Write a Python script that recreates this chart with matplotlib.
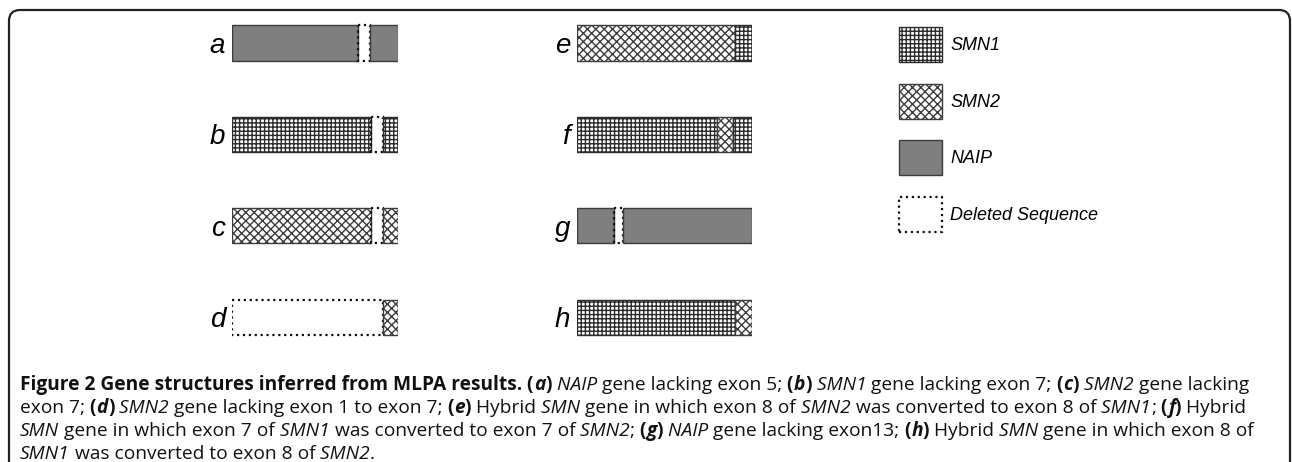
import matplotlib
matplotlib.use("Agg")
import matplotlib.pyplot as plt
from matplotlib.patches import Patch, FancyBboxPatch
from matplotlib.offsetbox import TextArea, HPacker, VPacker, AnchoredOffsetbox

# gene structures (segment kind + relative length, % of the whole gene)
LEFT_LABELS = ["a", "b", "c", "d"]
LEFT_SEGMENTS = [
    ["NAIP", "DEL", "NAIP"],
    ["SMN1", "DEL", "SMN1"],
    ["SMN2", "DEL", "SMN2"],
    ["DEL", "SMN2"],
]
LEFT_LENGTHS = [
    [76, 7, 17],
    [84, 7, 9],
    [84, 7, 9],
    [91, 9],
]

RIGHT_LABELS = ["e", "f", "g", "h"]
RIGHT_SEGMENTS = [
    ["SMN2", "SMN1"],
    ["SMN1", "SMN2", "SMN1"],
    ["NAIP", "DEL", "NAIP"],
    ["SMN1", "SMN2"],
]
RIGHT_LENGTHS = [
    [90, 10],
    [80, 9, 11],
    [21, 5, 74],
    [90, 10],
]

LEGEND_KEYS = ["SMN1", "SMN2", "NAIP", "DEL"]
LEGEND_NAMES = ["SMN1", "SMN2", "NAIP", "Deleted Sequence"]

# caption text runs: n normal, b bold, i italic, bi bold italic
CAPTION_LINES = [
    [("Figure 2 Gene structures inferred from MLPA results.", "b"), (" (", "b"), ("a", "bi"), (")", "b"),
     (" NAIP", "i"), (" gene lacking exon 5;", "n"), (" (", "b"), ("b", "bi"), (")", "b"),
     (" SMN1", "i"), (" gene lacking exon 7;", "n"), (" (", "b"), ("c", "bi"), (")", "b"),
     (" SMN2", "i"), (" gene lacking", "n")],
    [("exon 7;", "n"), (" (", "b"), ("d", "bi"), (")", "b"), (" SMN2", "i"),
     (" gene lacking exon 1 to exon 7;", "n"), (" (", "b"), ("e", "bi"), (")", "b"),
     (" Hybrid", "n"), (" SMN", "i"), (" gene in which exon 8 of", "n"), (" SMN2", "i"),
     (" was converted to exon 8 of", "n"), (" SMN1", "i"), (";", "n"),
     (" (", "b"), ("f", "bi"), (")", "b"), (" Hybrid", "n")],
    [("SMN", "i"), (" gene in which exon 7 of", "n"), (" SMN1", "i"),
     (" was converted to exon 7 of", "n"), (" SMN2", "i"), (";", "n"),
     (" (", "b"), ("g", "bi"), (")", "b"), (" NAIP", "i"), (" gene lacking exon13;", "n"),
     (" (", "b"), ("h", "bi"), (")", "b"), (" Hybrid", "n"), (" SMN", "i"),
     (" gene in which exon 8 of", "n")],
    [("SMN1", "i"), (" was converted to exon 8 of", "n"), (" SMN2", "i"), (".", "n")],
]

STYLE = {
    "SMN1": dict(facecolor="white", edgecolor="#2b2b2b", hatch="++++", linewidth=1.0),
    "SMN2": dict(facecolor="white", edgecolor="#3c3c3c", hatch="xxxx", linewidth=1.0),
    "NAIP": dict(facecolor="#7f7f7f", edgecolor="#3c3c3c", linewidth=1.0),
    "DEL": dict(facecolor="none", edgecolor="#111111", linestyle=":", linewidth=1.6),
}

BAR_H = 0.385
LABEL_FONT = "Liberation Sans"
CAPTION_FONT = "Open Sans"

RUN_PROPS = {
    "n": dict(fontweight="normal", fontstyle="normal"),
    "b": dict(fontweight="bold", fontstyle="normal"),
    "i": dict(fontweight="normal", fontstyle="italic"),
    "bi": dict(fontweight="bold", fontstyle="italic"),
}


def draw_column(ax, labels, segments, lengths):
    for row, (segs, lens) in enumerate(zip(segments, lengths)):
        left = 0
        for seg, ln in zip(segs, lens):
            ax.barh(row, ln, left=left, height=BAR_H, **STYLE[seg])
            left += ln
    ax.set_xlim(0, 100)
    ax.set_ylim(3.27, -0.23)
    ax.set_yticks(range(len(labels)), labels)
    for t in ax.get_yticklabels():
        t.set_fontfamily(LABEL_FONT)
        t.set_fontstyle("italic")
        t.set_fontsize(20)
    ax.tick_params(axis="y", length=0, pad=5)
    ax.set_xticks([])
    for s in ax.spines.values():
        s.set_visible(False)
    ax.patch.set_alpha(0)


def main():
    plt.rcParams["hatch.linewidth"] = 1.0
    fig = plt.figure(figsize=(12.92, 4.62), dpi=100)

    # background axes in pixel units: frame + caption
    ax_bg = fig.add_axes([0, 0, 1, 1])
    ax_bg.set_xlim(0, 1292)
    ax_bg.set_ylim(462, 0)
    ax_bg.axis("off")
    frame = FancyBboxPatch((9, 10), 1281, 500,
                           boxstyle="round,pad=0,rounding_size=11",
                           fill=False, edgecolor="#222222", linewidth=1.6)
    ax_bg.add_patch(frame)

    lines = []
    for runs in CAPTION_LINES:
        boxes = [TextArea(txt, textprops=dict(family=CAPTION_FONT, fontsize=13.8,
                                              color="#111111", **RUN_PROPS[sty]))
                 for txt, sty in runs]
        lines.append(HPacker(children=boxes, pad=0, sep=0, align="baseline"))
    caption = VPacker(children=lines, pad=0, sep=2.3, align="left")
    anchored = AnchoredOffsetbox(loc="upper left", child=caption, pad=0, borderpad=0,
                                 frameon=False, bbox_to_anchor=(20, 375),
                                 bbox_transform=ax_bg.transData)
    ax_bg.add_artist(anchored)

    # gene columns
    ax_l = fig.add_axes([232 / 1292, 120 / 462, 166 / 1292, 320 / 462])
    draw_column(ax_l, LEFT_LABELS, LEFT_SEGMENTS, LEFT_LENGTHS)
    ax_r = fig.add_axes([577 / 1292, 120 / 462, 175 / 1292, 320 / 462])
    draw_column(ax_r, RIGHT_LABELS, RIGHT_SEGMENTS, RIGHT_LENGTHS)

    # legend
    handles = [Patch(**STYLE[k]) for k in LEGEND_KEYS]
    fig.legend(handles, LEGEND_NAMES, loc="upper left",
               bbox_to_anchor=(899 / 1292, 1 - 27 / 462),
               frameon=False, borderpad=0, borderaxespad=0,
               handlelength=2.38, handleheight=2.6, labelspacing=1.2,
               handletextpad=0.45,
               prop=dict(family=LABEL_FONT, style="italic", size=13))

    fig.savefig("out.png", dpi=100)
    plt.close(fig)


if __name__ == "__main__":
    main()
